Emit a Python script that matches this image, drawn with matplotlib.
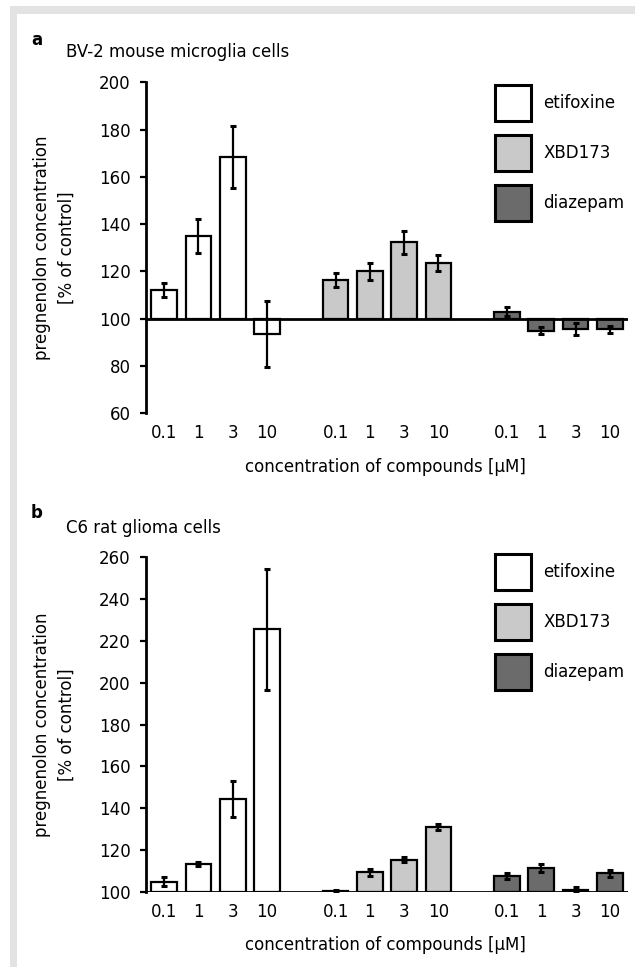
import matplotlib
matplotlib.use("Agg")
import matplotlib.pyplot as plt
from matplotlib.patches import Patch, Rectangle
import numpy as np

plt.rcParams['font.family'] = ['DejaVu Sans']

compounds = ["etifoxine", "XBD173", "diazepam"]
concentrations = ["0.1", "1", "3", "10"]
colors = ["#ffffff", "#c9c9c9", "#6b6b6b"]

# Panel a: BV-2 mouse microglia cells
a_etifoxine = [112, 135, 168.5, 93.5]
a_etifoxine_err = [3, 7, 13, 14]
a_xbd173 = [116.5, 120, 132.3, 123.5]
a_xbd173_err = [3, 3.7, 5, 3.5]
a_diazepam = [103, 95, 95.5, 95.6]
a_diazepam_err = [2, 1.5, 2.5, 1.5]

# Panel b: C6 rat glioma cells
b_etifoxine = [104.8, 113.2, 144.3, 225.5]
b_etifoxine_err = [2, 1, 8.7, 29]
b_xbd173 = [100.4, 109.2, 115.2, 131.1]
b_xbd173_err = [0.4, 1.5, 1.2, 1.5]
b_diazepam = [107.5, 111.2, 100.8, 108.8]
b_diazepam_err = [1.5, 2, 1.3, 1.7]

W, H = 635, 967
fig = plt.figure(figsize=(W / 100, H / 100), dpi=100)

# gray frame (top and left)
fig.patches.append(Rectangle((10 / W, 0), 7 / W, 1 - 6 / H, transform=fig.transFigure,
                             facecolor="#e3e3e3", edgecolor="none", zorder=0))
fig.patches.append(Rectangle((10 / W, 1 - 14 / H), 1 - 10 / W, 8 / H, transform=fig.transFigure,
                             facecolor="#e3e3e3", edgecolor="none", zorder=0))


def panel(rect, data, errs, ylim, yticks, letter, title, letter_y, title_y, xlabel_y, base):
    ax = fig.add_axes(rect)
    positions = []
    for g in range(3):
        pos = [g * 5 + i for i in range(4)]
        vals = np.array(data[g])
        ax.bar(pos, vals - base, bottom=base, width=0.75, color=colors[g],
               edgecolor="black", linewidth=1.6, zorder=2)
        ax.errorbar(pos, vals, yerr=errs[g], fmt="none", ecolor="black",
                    elinewidth=1.6, capsize=2.5, capthick=2.2, zorder=3)
        positions += pos
    ax.set_xlim(-0.53, 13.53)
    ax.set_ylim(*ylim)
    ax.set_yticks(yticks)
    ax.set_xticks(positions)
    ax.set_xticklabels(concentrations * 3, fontsize=12)
    ax.tick_params(axis="x", length=0, pad=8)
    ax.tick_params(axis="y", length=4, width=1.6, pad=7, labelsize=12)
    for s in ["top", "right", "bottom"]:
        ax.spines[s].set_visible(False)
    ax.spines["left"].set_linewidth(2)
    ax.axhline(base, color="black", linewidth=2, zorder=4)
    ax.set_ylabel("pregnenolon concentration\n[% of control]", fontsize=12, linespacing=1.5)
    ax.yaxis.set_label_coords(-0.145, 0.5)
    handles = [Patch(facecolor=colors[i], edgecolor="black", linewidth=2.2, label=compounds[i])
               for i in range(3)]
    fig.text(31 / W, 1 - letter_y / H, letter, fontsize=12, fontweight="bold", va="center")
    fig.text(66 / W, 1 - title_y / H, title, fontsize=12, va="center")
    fig.text(385 / W, 1 - xlabel_y / H, "concentration of compounds [μM]", fontsize=12,
             ha="center", va="center")
    return ax, handles


def add_legend(ax, handles, top):
    ax.legend(handles=handles, loc="upper left", bbox_to_anchor=(495 / W, 1 - top / H),
              bbox_transform=fig.transFigure, frameon=False, fontsize=12, borderpad=0,
              borderaxespad=0, handlelength=2.15, handleheight=2.95, labelspacing=0.85,
              handletextpad=0.75)


ax_a, h = panel([146 / W, 1 - 413.3 / H, 482 / W, 331 / H],
                [a_etifoxine, a_xbd173, a_diazepam],
                [a_etifoxine_err, a_xbd173_err, a_diazepam_err],
                (60, 200), np.arange(60, 201, 20), "a", "BV-2 mouse microglia cells",
                40, 52, 467, 100)
add_legend(ax_a, h, 85)

ax_b, h = panel([146 / W, 1 - 891.7 / H, 482 / W, 334.4 / H],
                [b_etifoxine, b_xbd173, b_diazepam],
                [b_etifoxine_err, b_xbd173_err, b_diazepam_err],
                (100, 260), np.arange(100, 261, 20), "b", "C6 rat glioma cells",
                513, 528, 945, 100)
add_legend(ax_b, h, 554)

fig.savefig("out.png", dpi=100)
